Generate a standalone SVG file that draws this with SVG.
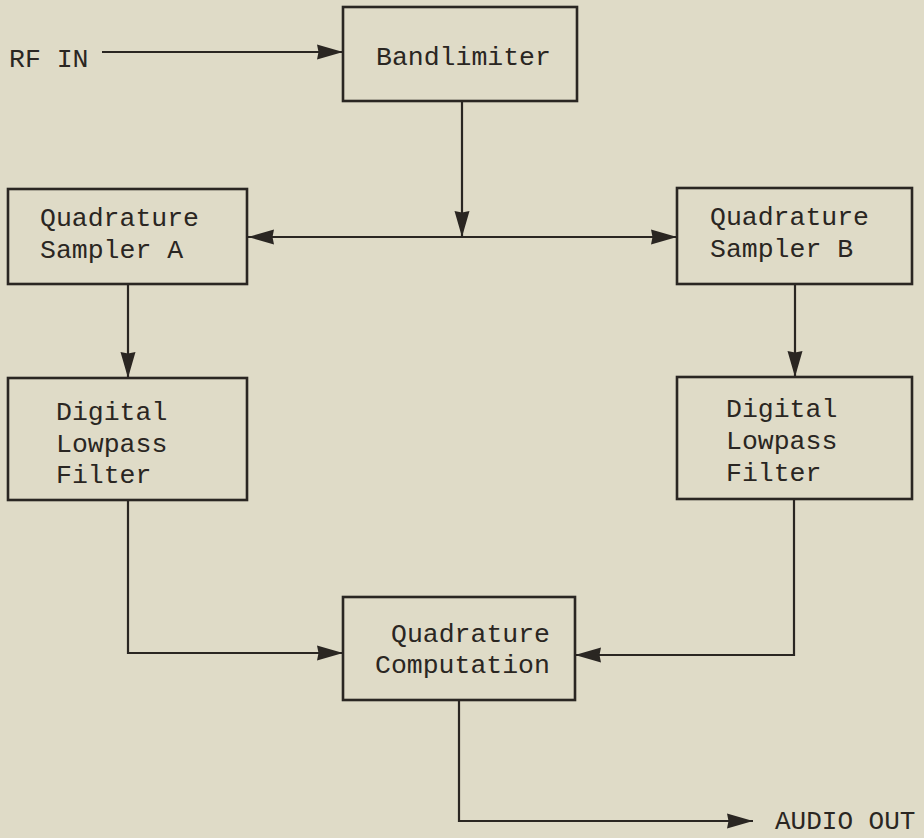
<svg xmlns="http://www.w3.org/2000/svg" width="924" height="838" viewBox="0 0 924 838">
  <style>
    .box { fill: none; stroke: #2a2622; stroke-width: 2.6; }
    .wire { fill: none; stroke: #2a2622; stroke-width: 2.2; }
    .lbl { font-family: "Liberation Mono", "Courier New", monospace; font-size: 26.5px; fill: #2a2622; }
  </style>
  <defs>
    <marker id="arrow" markerUnits="userSpaceOnUse" markerWidth="26" markerHeight="16" refX="26" refY="8" orient="auto-start-reverse">
      <path d="M0,0.5 L26,8 L0,15.5 L1.5,8 z" fill="#2a2622"/>
    </marker>
  </defs>
  <rect width="924" height="838" fill="#dfdbc7"/>

  <!-- signal flow connectors -->
  <g id="connectors">
    <path class="wire" d="M102,52 H343" marker-end="url(#arrow)"/>
    <path class="wire" d="M462,101 V237" marker-end="url(#arrow)"/>
    <path class="wire" d="M248,237 H677" marker-start="url(#arrow)" marker-end="url(#arrow)"/>
    <path class="wire" d="M128,284 V378" marker-end="url(#arrow)"/>
    <path class="wire" d="M795,284 V377" marker-end="url(#arrow)"/>
    <path class="wire" d="M128,500 V653 H343" marker-end="url(#arrow)"/>
    <path class="wire" d="M794,499 V655 H575" marker-end="url(#arrow)"/>
    <path class="wire" d="M459,700 V821 H753" marker-end="url(#arrow)"/>
  </g>

  <g id="rf-in">
    <text class="lbl" x="9" y="67">RF IN</text>
  </g>

  <g id="bandlimiter">
    <rect class="box" x="343" y="7" width="234" height="94"/>
    <text class="lbl" x="376" y="65">Bandlimiter</text>
  </g>

  <g id="sampler-a">
    <rect class="box" x="8" y="189" width="239" height="95"/>
    <text class="lbl" x="40" y="226">Quadrature</text>
    <text class="lbl" x="40" y="258">Sampler A</text>
  </g>

  <g id="sampler-b">
    <rect class="box" x="677" y="188" width="235" height="96"/>
    <text class="lbl" x="710" y="225">Quadrature</text>
    <text class="lbl" x="710" y="257">Sampler B</text>
  </g>

  <g id="filter-a">
    <rect class="box" x="8" y="378" width="239" height="122"/>
    <text class="lbl" x="56" y="420">Digital</text>
    <text class="lbl" x="56" y="452">Lowpass</text>
    <text class="lbl" x="56" y="483">Filter</text>
  </g>

  <g id="filter-b">
    <rect class="box" x="677" y="377" width="235" height="122"/>
    <text class="lbl" x="726" y="417">Digital</text>
    <text class="lbl" x="726" y="449">Lowpass</text>
    <text class="lbl" x="726" y="481">Filter</text>
  </g>

  <g id="computation">
    <rect class="box" x="343" y="597" width="232" height="103"/>
    <text class="lbl" x="391" y="642">Quadrature</text>
    <text class="lbl" x="375" y="673">Computation</text>
  </g>

  <g id="audio-out">
    <text class="lbl" x="775" y="829" style="font-size:26px">AUDIO OUT</text>
  </g>
</svg>
